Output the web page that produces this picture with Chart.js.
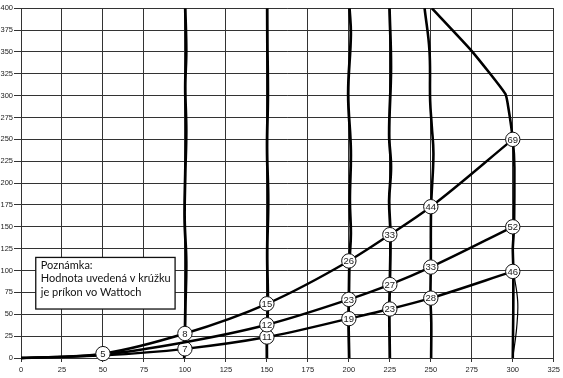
<!DOCTYPE html>
<html>
<head>
<meta charset="utf-8">
<script src="https://cdn.jsdelivr.net/npm/chart.js@4"></script>
<style>
  html, body { margin: 0; padding: 0; background: #fff; }
  #wrap { width: 563px; height: 378px; }
</style>
</head>
<body>
<div id="wrap"><canvas id="graf"></canvas></div>
<script>
// krivky (os x / os y) a prikon vo Wattoch v kruzkoch
const speeds = [0, 50, 100, 150, 200, 225, 250, 300];
const flowHigh = [0, 5, 28, 62, 111, 141, 173, 250];
const flowMid = [0, 4, 18, 38, 67, 84, 104, 150];
const flowLow = [0, 3, 10.5, 24, 45, 56, 68.5, 99];
const wattsHigh = [null, 5, 8, 15, 26, 33, 44, 69];
const wattsMid = [null, null, null, 12, 23, 27, 33, 52];
const wattsLow = [null, null, 7, 11, 19, 23, 28, 46];

// zvisle ciary
const v100x = [99.6, 100, 100.3, 100.8, 99.8, 100.2, 100.8, 100.2, 100.8, 100.2];
const v100y = [0, 28, 60, 110, 160, 210, 260, 310, 351, 400];
const v150x = [150, 150, 150.6, 150.2, 150.8, 150.1, 150.6, 150.3, 150.2];
const v150y = [0, 24, 62, 120, 180, 240, 300, 360, 400];
const v200x = [200.2, 199.8, 200, 200.4, 201.2, 200.6, 201.2, 199.6, 201.2, 200.4];
const v200y = [0, 45, 67, 111, 142, 180, 237, 302, 370, 400];
const v225x = [225, 224.7, 225, 225.4, 224.6, 225.7, 224.6, 225.7, 224.8];
const v225y = [0, 56, 84, 141, 180, 218, 256, 332, 400];
const v250x = [250.2, 250.3, 249.8, 250, 250.2, 251.6, 250.6, 249.6, 249.2, 246.2];
const v250y = [0, 40, 68.5, 104, 173, 233, 265, 294, 351, 400];
const v300x = [300, 300.3, 300.4, 300, 300.8, 301, 300, 297.5, 295.5, 275, 250.6];
const v300y = [0, 50, 99, 125, 150, 218, 250, 284, 302, 351, 400];
const v300bx = [300, 302.4, 303, 300.4];
const v300by = [0, 35, 65, 99];

const xTicks = [0, 325, 25];
const yTicks = [0, 400, 25];

function pts(xs, ys) {
    return xs.map((x, i) => ({ x: x, y: ys[i] }));
}

function curve(ys, watts) {
    return {
        data: pts(speeds, ys),
        watts: watts,
        showLine: true,
        borderColor: '#000',
        borderWidth: 2.4,
        cubicInterpolationMode: 'monotone',
        pointRadius: watts.map(w => w === null ? 0 : 7.2),
        pointBackgroundColor: '#fff',
        pointBorderColor: '#111',
        pointBorderWidth: 1,
        clip: false
    };
}

function vline(xs, ys, w, t) {
    return {
        data: pts(xs, ys),
        showLine: true,
        borderColor: '#000',
        borderWidth: w,
        tension: t,
        pointRadius: 0
    };
}

const kruzky = {
    id: 'kruzky',
    afterDatasetsDraw(chart) {
        const ctx = chart.ctx;
        ctx.save();
        ctx.font = '9.5px "Liberation Sans Narrow", "Liberation Sans", Arial';
        ctx.fillStyle = '#222';
        ctx.textAlign = 'center';
        ctx.textBaseline = 'middle';
        chart.data.datasets.forEach((ds, i) => {
            if (!ds.watts) return;
            const meta = chart.getDatasetMeta(i);
            meta.data.forEach((p, j) => {
                if (ds.watts[j] !== null) ctx.fillText(ds.watts[j], p.x, p.y + 0.5);
            });
        });
        ctx.restore();
    }
};

const poznamka = {
    id: 'poznamka',
    beforeDatasetsDraw(chart) {
        const ctx = chart.ctx;
        const sx = chart.scales.x, sy = chart.scales.y;
        const l = sx.getPixelForValue(9), r = sx.getPixelForValue(94);
        const t = sy.getPixelForValue(115), b = sy.getPixelForValue(56);
        ctx.save();
        ctx.fillStyle = '#fff';
        ctx.fillRect(l, t, r - l, b - t);
        ctx.strokeStyle = '#111';
        ctx.lineWidth = 1.3;
        ctx.strokeRect(l, t, r - l, b - t);
        ctx.fillStyle = '#111';
        ctx.font = '11px Lato';
        ctx.textBaseline = 'middle';
        ['Poznámka:', 'Hodnota uvedená v krúžku', 'je príkon vo Wattoch'].forEach((s, i) => {
            ctx.fillText(s, l + 5, t + 8 + i * 13.5);
        });
        ctx.restore();
    }
};

new Chart(document.getElementById('graf'), {
    type: 'scatter',
    data: {
        datasets: [
            curve(flowHigh, wattsHigh),
            curve(flowMid, wattsMid),
            curve(flowLow, wattsLow),
            vline(v100x, v100y, 2.8, 0.4),
            vline(v150x, v150y, 2.8, 0.4),
            vline(v200x, v200y, 2.8, 0.4),
            vline(v225x, v225y, 2.8, 0.4),
            vline(v250x, v250y, 2.6, 0.4),
            vline(v300x, v300y, 2.6, 0.15),
            vline(v300bx, v300by, 1.2, 0.4)
        ]
    },
    options: {
        responsive: true,
        maintainAspectRatio: false,
        animation: false,
        layout: {
            padding: { top: 7, right: 9, bottom: 0, left: 0 }
        },
        plugins: {
            legend: { display: false },
            tooltip: { enabled: false }
        },
        scales: {
            x: {
                type: 'linear',
                min: xTicks[0],
                max: xTicks[1],
                afterFit(scale) { scale.height = 20; },
                ticks: {
                    stepSize: xTicks[2],
                    maxRotation: 0,
                    autoSkip: false,
                    padding: 3,
                    color: '#222',
                    font: { family: '"Liberation Sans", Arial', size: 7.5 }
                },
                grid: { color: '#333', lineWidth: 1, tickLength: 4 },
                border: { color: '#333', width: 1 }
            },
            y: {
                type: 'linear',
                min: yTicks[0],
                max: yTicks[1],
                afterFit(scale) { scale.width = 21; },
                ticks: {
                    stepSize: yTicks[2],
                    autoSkip: false,
                    padding: 1,
                    color: '#222',
                    font: { family: '"Liberation Sans", Arial', size: 7.5 }
                },
                grid: { color: '#333', lineWidth: 1, tickLength: 7 },
                border: { color: '#333', width: 1 }
            }
        }
    },
    plugins: [poznamka, kruzky]
});
</script>
</body>
</html>
